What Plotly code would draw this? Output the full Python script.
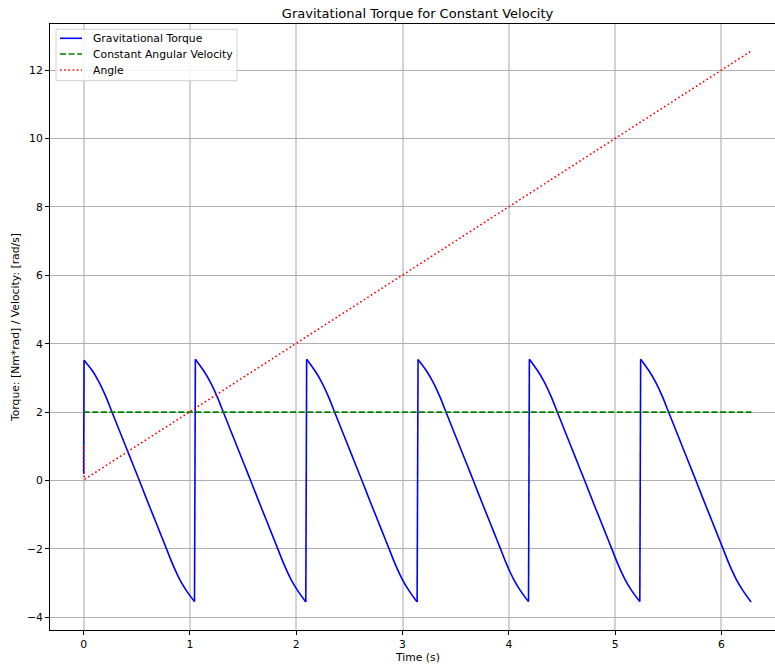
import plotly.graph_objects as go

# ---------------- data ----------------
# Gravitational torque: one list per cycle (times in s, torque in Nm*rad)
torque_time_cycles = [
    [0.004, 0.082, 0.145, 0.208, 0.271, 0.334, 0.397, 0.460, 0.524, 0.587, 0.650, 0.713, 0.776, 0.839, 0.902, 0.965, 1.043],
    [1.051, 1.129, 1.192, 1.255, 1.318, 1.381, 1.444, 1.507, 1.571, 1.634, 1.697, 1.760, 1.823, 1.886, 1.949, 2.012, 2.090],
    [2.098, 2.176, 2.239, 2.302, 2.365, 2.428, 2.491, 2.554, 2.618, 2.681, 2.744, 2.807, 2.870, 2.933, 2.996, 3.059, 3.137],
    [3.146, 3.224, 3.287, 3.350, 3.413, 3.476, 3.539, 3.602, 3.666, 3.729, 3.792, 3.855, 3.918, 3.981, 4.044, 4.107, 4.185],
    [4.193, 4.271, 4.334, 4.397, 4.460, 4.523, 4.586, 4.649, 4.713, 4.776, 4.839, 4.902, 4.965, 5.028, 5.091, 5.154, 5.232],
    [5.240, 5.318, 5.381, 5.444, 5.507, 5.570, 5.633, 5.696, 5.760, 5.823, 5.886, 5.949, 6.012, 6.075, 6.138, 6.201, 6.279],
]
torque_val_cycles = [
    [3.52, 3.21, 2.88, 2.46, 1.97, 1.48, 0.99, 0.50, 0.00, -0.50, -0.99, -1.48, -1.97, -2.46, -2.88, -3.21, -3.54],
    [3.55, 3.21, 2.88, 2.46, 1.97, 1.48, 0.99, 0.50, 0.00, -0.50, -0.99, -1.48, -1.97, -2.46, -2.88, -3.21, -3.55],
    [3.55, 3.21, 2.88, 2.46, 1.97, 1.48, 0.99, 0.50, 0.00, -0.50, -0.99, -1.48, -1.97, -2.46, -2.88, -3.21, -3.55],
    [3.54, 3.21, 2.88, 2.46, 1.97, 1.48, 0.99, 0.50, 0.00, -0.50, -0.99, -1.48, -1.97, -2.46, -2.88, -3.21, -3.54],
    [3.55, 3.21, 2.88, 2.46, 1.97, 1.48, 0.99, 0.50, 0.00, -0.50, -0.99, -1.48, -1.97, -2.46, -2.88, -3.21, -3.54],
    [3.55, 3.21, 2.88, 2.46, 1.97, 1.48, 0.99, 0.50, 0.00, -0.50, -0.99, -1.48, -1.97, -2.46, -2.88, -3.21, -3.55],
]
# Initial torque value at t = 0 (before the first jump)
torque_start_time = 0.0
torque_start_val = 0.20

# Constant angular velocity (rad/s)
vel_time = [0.0, 6.283]
vel_vals = [2.0, 2.0]

# Angle (rad)
angle_time = [0.0, 0.006, 6.283]
angle_vals = [1.0, 0.03, 12.566]

x_ticks = [0, 1, 2, 3, 4, 5, 6]
y_ticks = [-4, -2, 0, 2, 4, 6, 8, 10, 12]

series_names = ["Gravitational Torque", "Constant Angular Velocity", "Angle"]
series_colors = ["#0000ff", "#008000", "#ff0000"]
series_dash = ["solid", "6px,2.6px", "1.6px,2.6px"]

# ---------------- build traces ----------------
font = "DejaVu Sans, Liberation Sans, sans-serif"
LW = 1.6

# smooth cycle curves, separated by gaps
curve_x, curve_y = [], []
for tx, ty in zip(torque_time_cycles, torque_val_cycles):
    curve_x += tx + [None]
    curve_y += ty + [None]

# vertical jumps between cycles (straight segments)
jump_x = [torque_start_time, torque_time_cycles[0][0], None]
jump_y = [torque_start_val, torque_val_cycles[0][0], None]
for i in range(1, len(torque_time_cycles)):
    jump_x += [torque_time_cycles[i - 1][-1], torque_time_cycles[i][0], None]
    jump_y += [torque_val_cycles[i - 1][-1], torque_val_cycles[i][0], None]

fig = go.Figure()
fig.add_trace(go.Scatter(x=curve_x, y=curve_y, mode="lines", name=series_names[0],
                         connectgaps=False, showlegend=False,
                         line=dict(color=series_colors[0], width=LW, shape="spline", smoothing=1.0)))
fig.add_trace(go.Scatter(x=jump_x, y=jump_y, mode="lines", name=series_names[0],
                         connectgaps=False, showlegend=False,
                         line=dict(color=series_colors[0], width=LW)))
fig.add_trace(go.Scatter(x=vel_time, y=vel_vals, mode="lines", name=series_names[1],
                         showlegend=False,
                         line=dict(color=series_colors[1], width=LW, dash=series_dash[1])))
fig.add_trace(go.Scatter(x=angle_time, y=angle_vals, mode="lines", name=series_names[2],
                         showlegend=False,
                         line=dict(color=series_colors[2], width=LW, dash=series_dash[2])))

# ---------------- layout ----------------
W, H = 775, 668
L, R, T, B = 50, 0, 24, 38
pw, ph = W - L - R, H - T - B


def px_x(p):
    return (p - L) / pw


def px_y(p):
    return (H - B - p) / ph


shapes = []
annotations = []

# legend box (matplotlib-style, drawn manually)
shapes.append(dict(type="rect", xref="paper", yref="paper",
                   x0=px_x(56), x1=px_x(237), y0=px_y(80.7), y1=px_y(29.3),
                   fillcolor="rgba(255,255,255,0.85)", line=dict(color="#d0d0d0", width=1),
                   layer="above"))
legend_rows = [38.3, 54.0, 70.0]
for name, col, dash, yy in zip(series_names, series_colors, series_dash, legend_rows):
    shapes.append(dict(type="line", xref="paper", yref="paper",
                       x0=px_x(60), x1=px_x(82), y0=px_y(yy), y1=px_y(yy),
                       line=dict(color=col, width=LW, dash=dash), layer="above"))
    annotations.append(dict(text=name, xref="paper", yref="paper",
                            x=px_x(90.5), y=px_y(yy), xanchor="left", yanchor="middle",
                            showarrow=False, font=dict(size=10.8, family=font, color="black")))

# x-axis title (centred on the full matplotlib axes, which extend past the window)
annotations.append(dict(text="Time (s)", xref="paper", yref="paper",
                        x=px_x(417.5), y=px_y(657), xanchor="center", yanchor="middle",
                        showarrow=False, font=dict(size=10.8, family=font, color="black")))

fig.update_layout(
    width=W, height=H,
    margin=dict(l=L, r=R, t=T, b=B),
    paper_bgcolor="white", plot_bgcolor="white",
    font=dict(family=font, size=10.8, color="black"),
    title=dict(text="Gravitational Torque for Constant Velocity",
               xref="container", yref="container",
               x=417.5 / W, xanchor="center",
               y=1 - 13 / H, yanchor="middle",
               font=dict(size=13, family=font, color="black")),
    showlegend=False,
    shapes=shapes,
    annotations=annotations,
    xaxis=dict(range=[-0.3165, -0.3165 + pw / 106.3], tickvals=x_ticks,
               showgrid=True, gridcolor="#d3d3d3", gridwidth=2,
               zeroline=False, showline=True, linecolor="black", linewidth=1, mirror=True,
               ticks="outside", ticklen=4, tickcolor="black",
               tickfont=dict(size=10.8)),
    yaxis=dict(range=[-4.37, 13.35], tickvals=y_ticks,
               showgrid=True, gridcolor="#b0b0b0", gridwidth=1,
               zeroline=False, showline=True, linecolor="black", linewidth=1, mirror=False,
               ticks="outside", ticklen=4, tickcolor="black",
               tickfont=dict(size=10.8),
               title=dict(text="Torque: [Nm*rad] / Velocity: [rad/s]", standoff=5,
                          font=dict(size=10.8))),
)

fig.write_html("out.html")
